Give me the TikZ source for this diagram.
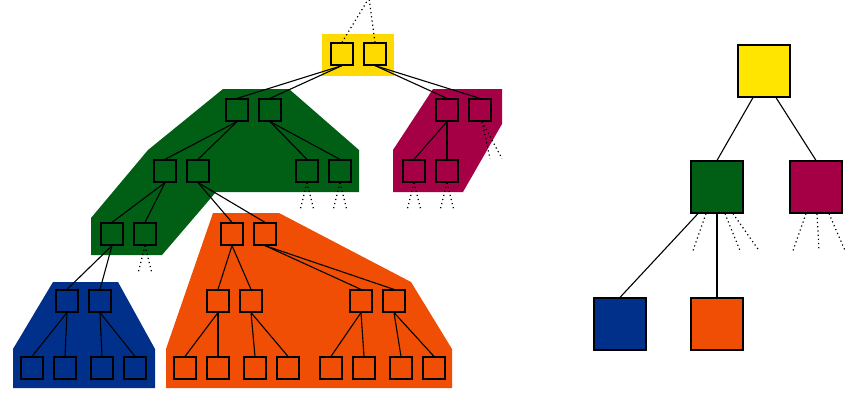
\documentclass[tikz,border=0pt]{standalone}
\definecolor{tyellow}{RGB}{255,218,0}
\definecolor{tgreen}{RGB}{0,94,21}
\definecolor{tpurple}{RGB}{165,0,70}
\definecolor{tblue}{RGB}{0,48,138}
\definecolor{torange}{RGB}{240,78,5}
\tikzset{
    sq/.style={draw, minimum size=22pt, inner sep=0pt, line width=1.2pt},
    bigsq/.style={draw, minimum size=52pt, inner sep=0pt, line width=1.2pt},
    edge/.style={line width=1.1pt},
    dots/.style={line width=1.2pt, dash pattern=on 1.2pt off 3pt},
}
\begin{document}
\begin{tikzpicture}[x=1pt,y=-1pt]
        \useasboundingbox (0,0) rectangle (852,402);
        % blocks
        \fill[tyellow] (322,34) rectangle (394,76);
        \fill[tgreen] (223,89) -- (289,89) -- (359,150) -- (359,192) -- (216,192) -- (162,255) -- (91,255) -- (91,218) -- (148,150) -- cycle;
        \fill[tpurple] (433,89) -- (502,89) -- (502,124) -- (463,192) -- (393,192) -- (393,150) -- cycle;
        \fill[tblue] (53,282) -- (118,282) -- (155,349) -- (155,388) -- (13,388) -- (13,349) -- cycle;
        \fill[torange] (213,213) -- (279,213) -- (411,282) -- (452,349) -- (452,388) -- (166,388) -- (166,349) -- cycle;
        % nodes of the tree
        \node[sq, fill=tyellow] (y1) at (342,54) {};
        \node[sq, fill=tyellow] (y2) at (375,54) {};
        \node[sq, fill=tgreen] (ga) at (237,110) {};
        \node[sq, fill=tgreen] (gb) at (270,110) {};
        \node[sq, fill=tpurple] (pa) at (447,110) {};
        \node[sq, fill=tpurple] (pb) at (480,110) {};
        \node[sq, fill=tgreen] (gc) at (165,171) {};
        \node[sq, fill=tgreen] (gd) at (198,171) {};
        \node[sq, fill=tgreen] (ge) at (307,171) {};
        \node[sq, fill=tgreen] (gf) at (340,171) {};
        \node[sq, fill=tpurple] (pc) at (414,171) {};
        \node[sq, fill=tpurple] (pd) at (447,171) {};
        \node[sq, fill=tgreen] (gg) at (112,234) {};
        \node[sq, fill=tgreen] (gh) at (145,234) {};
        \node[sq, fill=torange] (oa) at (232,234) {};
        \node[sq, fill=torange] (ob) at (265,234) {};
        \node[sq, fill=tblue] (ba) at (67,301) {};
        \node[sq, fill=tblue] (bb) at (100,301) {};
        \node[sq, fill=torange] (oc) at (218,301) {};
        \node[sq, fill=torange] (od) at (251,301) {};
        \node[sq, fill=torange] (oe) at (361,301) {};
        \node[sq, fill=torange] (of) at (394,301) {};
        \foreach \n/\x in {1/32,2/65,3/102,4/135}
            \node[sq, fill=tblue] (b\n) at (\x,368) {};
        \foreach \n/\x in {1/185,2/218,3/255,4/288,5/331,6/364,7/401,8/434}
            \node[sq, fill=torange] (o\n) at (\x,368) {};
        % edges
        \foreach \p/\c in {y1/ga,y1/gb,y2/pa,y2/pb,ga/gc,ga/gd,gb/ge,gb/gf,pa/pc,pa/pd,
                gc/gg,gc/gh,gd/oa,gd/ob,gg/ba,gg/bb,oa/oc,oa/od,ob/oe,ob/of,
                ba/b1,ba/b2,bb/b3,bb/b4,oc/o1,oc/o2,od/o3,od/o4,oe/o5,oe/o6,of/o7,of/o8}
            \draw[edge] (\p.south) -- (\c.north);
        \coordinate (up) at (369,-2);
        \draw[dots] (y1.north) -- (up);
        \draw[dots] (y2.north) -- (up);
        \foreach \p in {ge,gf,pc,pd,gh} {
            \draw[dots] (\p.south) -- ++(-7,28);
            \draw[dots] (\p.south) -- ++(7,28);
        }
        \draw[dots] ([xshift=2pt]pb.south) -- ++(8,37);
        \draw[dots] ([xshift=2pt]pb.south) -- ++(20,37);
        % condensed tree
        \node[bigsq, fill=tyellow!70!yellow] (Y) at (764,71) {};
        \node[bigsq, fill=tgreen] (G) at (717,187) {};
        \node[bigsq, fill=tpurple] (P) at (816,187) {};
        \node[bigsq, fill=tblue] (B) at (620,324) {};
        \node[bigsq, fill=torange] (O) at (717,324) {};
        \draw[edge] ([xshift=-11pt]Y.south) -- (G.north);
        \draw[edge] ([xshift=12pt]Y.south) -- (P.north);
        \draw[edge] ([xshift=-19pt]G.south) -- (B.north);
        \draw[edge] (G.south) -- (O.north);
        \foreach \s/\d in {-11/-13,8/15,16/26}
            \draw[dots] ([xshift=\s pt]G.south) -- ++(\d,37);
        \foreach \s/\d in {-10/-13,1/2,13/16}
            \draw[dots] ([xshift=\s pt]P.south) -- ++(\d,37);
    \end{tikzpicture}
\end{document}
